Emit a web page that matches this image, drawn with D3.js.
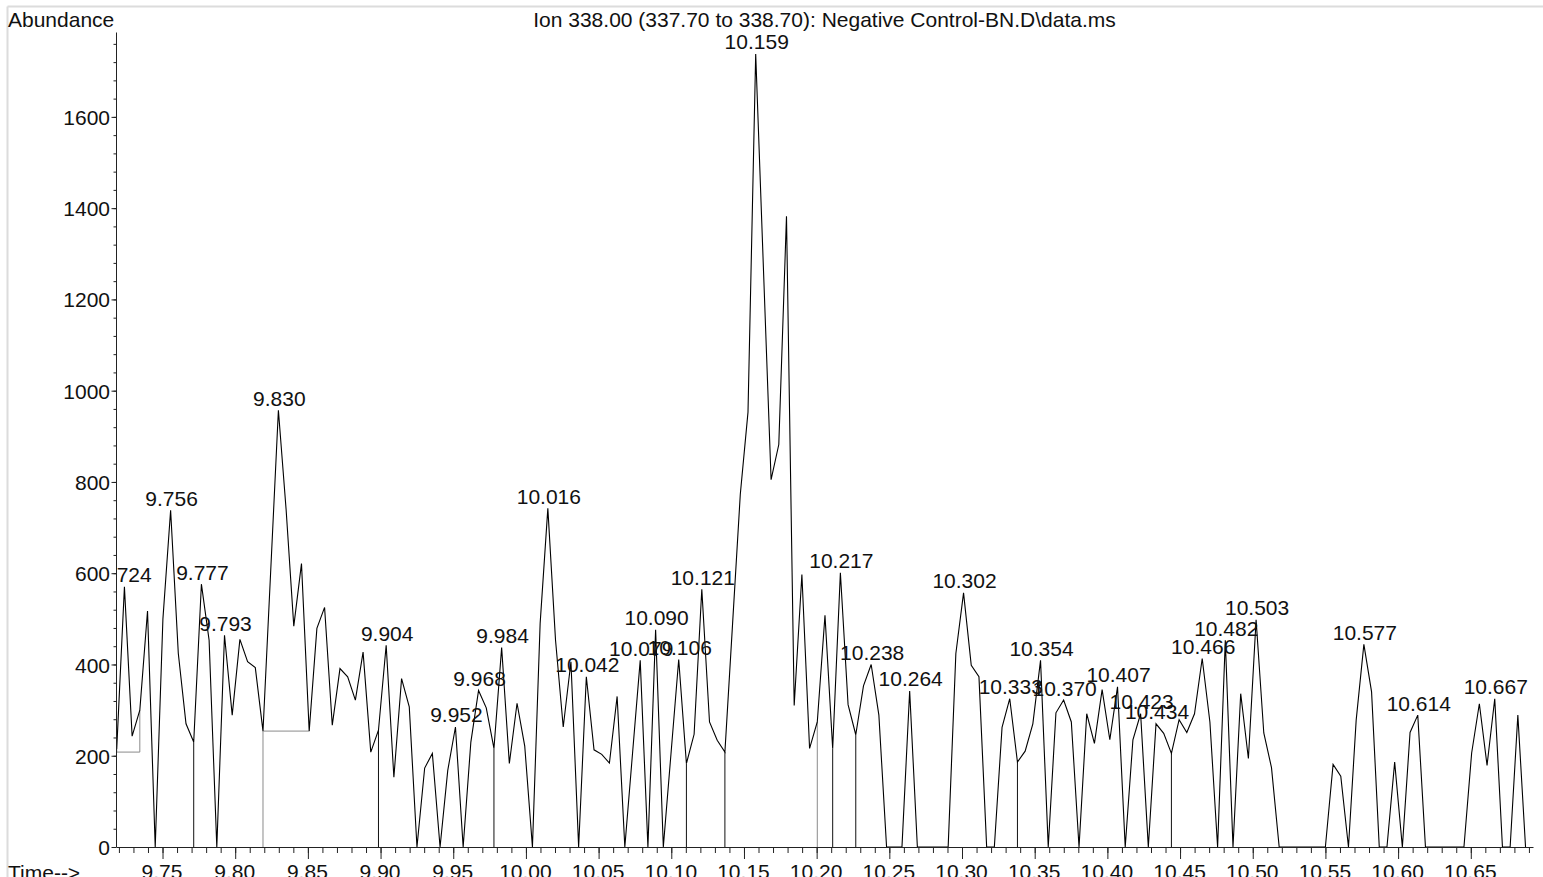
<!DOCTYPE html>
<html><head><meta charset="utf-8">
<script src="https://cdn.jsdelivr.net/npm/d3@7"></script>
<style>
body{margin:0;background:#fff;overflow:hidden}
svg{display:block}
text{font-family:"Liberation Sans",Arial,sans-serif;fill:#111}
</style>
</head><body>
<svg id="c" width="1543" height="877"></svg>
<script>
// ---- data ----
const scanStart = 9.7185;      // min, first scan
const scanInterval = 0.005296; // min per scan
const abundance = [
 215,570,243,300,517,0,500,738,424,270,
 230,576,453,0,464,289,455,406,393,254,
 605,957,740,484,621,254,479,525,267,391,
 373,322,427,208,256,442,153,369,307,0,
 173,205,0,168,263,0,230,343,305,216,
 437,183,315,221,0,490,742,453,263,406,
 0,373,213,203,184,330,0,205,409,0,
 476,0,205,411,183,247,565,274,234,208,
 490,773,953,1738,1270,805,882,1382,310,597,
 216,274,508,216,601,312,246,353,400,289,
 0,0,0,342,0,0,0,0,0,424,
 557,398,373,0,0,262,325,186,210,270,
 409,0,294,322,274,0,292,227,345,235,
 351,0,235,292,0,270,249,205,279,251,
 292,413,274,0,453,0,336,194,498,250,
 174,0,0,0,0,0,0,0,181,155,
 0,278,444,340,0,0,186,0,251,289,
 0,0,0,0,0,0,206,314,179,325,
 0,0,289,0
];
const peakLabels = ["9.724","9.756","9.777","9.793","9.830","9.904","9.952","9.968","9.984",
 "10.016","10.042","10.079","10.090","10.106","10.121","10.159","10.217","10.238","10.264",
 "10.302","10.333","10.354","10.370","10.407","10.423","10.434","10.466","10.482","10.503",
 "10.577","10.614","10.667"];
const dropTimes = [9.7715, 9.8986, 9.9780, 10.1104, 10.1369, 10.2110, 10.2269, 10.3381, 10.4441];
const grayDropTimes = [9.8191, 10.2004];
const baselineFrom = [9.7185, 9.8191];
const baselineTo = [9.7344, 9.8509];
const baselineLevel = [208, 254];
const xTickLabels = ["9.75","9.80","9.85","9.90","9.95","10.00","10.05","10.10","10.15","10.20",
 "10.25","10.30","10.35","10.40","10.45","10.50","10.55","10.60","10.65"];
const yTickLabels = ["0","200","400","600","800","1000","1200","1400","1600"];
const titleText = "Ion 338.00 (337.70 to 338.70): Negative Control-BN.D\\data.ms";

// ---- layout ----
const svg = d3.select("#c");
const FS = 21;
const x = d3.scaleLinear().domain([9.7180, 10.6928]).range([116, 1533]);
const y = d3.scaleLinear().domain([0, 1786]).range([847, 32]);
const times = abundance.map((_, i) => scanStart + i * scanInterval);
const idx = t => Math.max(0, Math.min(abundance.length - 1, Math.round((t - scanStart) / scanInterval)));

// frame
svg.append("line").attr("x1",7.5).attr("x2",1543).attr("y1",6.5).attr("y2",6.5).attr("stroke","#dcdcdc").attr("stroke-width",2);
svg.append("line").attr("x1",7.5).attr("x2",7.5).attr("y1",6.5).attr("y2",877).attr("stroke","#dcdcdc").attr("stroke-width",2);

svg.append("defs").append("clipPath").attr("id","plot")
  .append("rect").attr("x",116).attr("y",0).attr("width",1427).attr("height",850);

const plot = svg.append("g").attr("clip-path","url(#plot)");

// integration baselines (gray)
baselineLevel.forEach((lv, k) => {
  const a = idx(baselineFrom[k]), b = idx(baselineTo[k]);
  const pts = [[x(times[a]), y(abundance[a])],[x(times[a]), y(lv)],[x(times[b]), y(lv)],[x(times[b]), y(abundance[b])]];
  plot.append("path").attr("d", d3.line()(pts)).attr("fill","none").attr("stroke","#8a8a8a").attr("stroke-width",1);
});
grayDropTimes.forEach(t => {
  const i = idx(t);
  plot.append("line").attr("x1",x(times[i])).attr("x2",x(times[i])).attr("y1",y(abundance[i])).attr("y2",y(0))
    .attr("stroke","#8a8a8a").attr("stroke-width",1);
});
dropTimes.forEach(t => {
  const i = idx(t);
  plot.append("line").attr("x1",x(times[i])).attr("x2",x(times[i])).attr("y1",y(abundance[i])).attr("y2",y(0))
    .attr("stroke","#111").attr("stroke-width",1);
});

// signal
plot.append("path")
  .datum(abundance)
  .attr("d", d3.line().x((d,i)=>x(times[i])).y(d=>y(d)))
  .attr("fill","none").attr("stroke","#000").attr("stroke-width",1.1).attr("stroke-linejoin","miter");

// peak labels
peakLabels.forEach(s => {
  const i = idx(+s);
  plot.append("text").attr("x", x(times[i]) + 1).attr("y", y(abundance[i]) - 4.5)
    .attr("text-anchor","middle").attr("font-size",FS).text(s);
});

// axes
const xMinor = d3.range(0, 98).map(k => 9.72 + k * 0.01);
const gxm = svg.append("g").attr("transform","translate(0,847)")
  .call(d3.axisBottom(x).tickValues(xMinor).tickSize(6).tickSizeOuter(0).tickFormat(""));
gxm.select(".domain").attr("stroke","#222");
gxm.selectAll(".tick line").attr("stroke","#222");
const gx = svg.append("g").attr("transform","translate(0,847)")
  .call(d3.axisBottom(x).tickValues(xTickLabels.map(Number)).tickSize(12).tickSizeOuter(0)
    .tickFormat((d,i)=>xTickLabels[i]));
gx.select(".domain").remove();
gx.selectAll(".tick line").attr("stroke","#222");
gx.selectAll(".tick text").attr("font-size",FS).attr("font-family","Liberation Sans, Arial, sans-serif")
  .attr("fill","#111").attr("y",17.5).attr("dx",-1);

const gym = svg.append("g").attr("transform","translate(116,0)")
  .call(d3.axisLeft(y).tickValues(d3.range(0, 45).map(k => k * 40)).tickSize(2.5).tickSizeOuter(0).tickFormat(""));
gym.select(".domain").attr("stroke","#222");
gym.selectAll(".tick line").attr("stroke","#222");
const gy = svg.append("g").attr("transform","translate(116,0)")
  .call(d3.axisLeft(y).tickValues(yTickLabels.map(Number)).tickSize(4.5).tickPadding(1.5).tickSizeOuter(0)
    .tickFormat((d,i)=>yTickLabels[i]));
gy.select(".domain").remove();
gy.selectAll(".tick line").attr("stroke","#222");
gy.selectAll(".tick text").attr("font-size",FS).attr("font-family","Liberation Sans, Arial, sans-serif")
  .attr("fill","#111").attr("dy","0.36em");

// texts
svg.append("text").attr("x",8).attr("y",27).attr("font-size",FS).text("Abundance");
svg.append("text").attr("x",824.5).attr("y",27).attr("text-anchor","middle").attr("font-size",FS).text(titleText);
svg.append("text").attr("x",8).attr("y",880).attr("font-size",FS).text("Time-->");
</script>
</body></html>
